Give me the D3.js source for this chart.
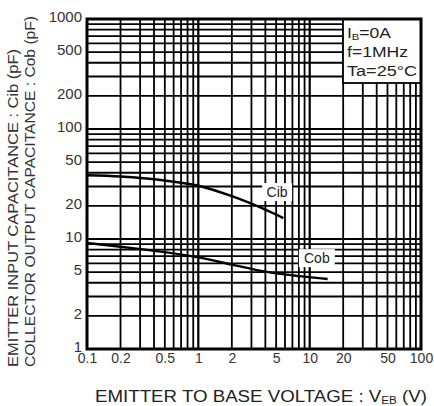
<!DOCTYPE html>
<html>
<head>
<meta charset="utf-8">
<script src="https://cdn.jsdelivr.net/npm/d3@7"></script>
<style>
  body { margin: 0; background: #fff; }
  text { font-family: "Liberation Sans", Arial, sans-serif; }
</style>
</head>
<body>
<div id="chart"></div>
<script>
// data
const cibV = [0.1, 0.2, 0.5, 1, 2, 4, 5.8];
const cibC = [38, 37, 34, 30.5, 24.5, 18.5, 15.5];
const cobV = [0.1, 0.2, 0.5, 1, 2, 4, 8, 14.5];
const cobC = [9.2, 8.5, 7.6, 6.8, 5.85, 5.05, 4.6, 4.33];
const xTicks = [0.1, 0.2, 0.5, 1, 2, 5, 10, 20, 50, 100];
const yTicks = [1, 2, 5, 10, 20, 50, 100, 200, 500, 1000];
const notes = ["f=1MHz", "Ta=25°C"];

const width = 434;
const height = 406;
const margin = {left: 87, right: 13, top: 19, bottom: 57};

const svg = d3.select('#chart')
    .append('svg')
    .attr('width', width)
    .attr('height', height)

const x = d3.scaleLog().domain([0.1, 100]).range([margin.left, width - margin.right]);
const y = d3.scaleLog().domain([1, 1000]).range([height - margin.bottom, margin.top]);

// minor grid values for every decade
const gridX = [], gridY = [];
[0.1, 1, 10].forEach(d => { for (let k = 1; k <= 10; k++) gridX.push(d * k); });
[1, 10, 100].forEach(d => { for (let k = 1; k <= 10; k++) gridY.push(d * k); });

const g = svg.append('g')

g.selectAll('.gx')
    .data(gridX)
    .enter()
    .append('line')
    .attr('x1', d => x(d)).attr('x2', d => x(d))
    .attr('y1', y(1)).attr('y2', y(1000))
    .attr('stroke', '#000')
    .attr('stroke-width', 1.8)

g.selectAll('.gy')
    .data(gridY)
    .enter()
    .append('line')
    .attr('y1', d => y(d)).attr('y2', d => y(d))
    .attr('x1', x(0.1)).attr('x2', x(100))
    .attr('stroke', '#000')
    .attr('stroke-width', 1.8)

// curves
const line = d3.line().curve(d3.curveCatmullRom.alpha(0.5));
g.append('path')
    .attr('d', line(cibV.map((v, i) => [x(v), y(cibC[i])])))
    .attr('fill', 'none').attr('stroke', '#000').attr('stroke-width', 2.4)
g.append('path')
    .attr('d', line(cobV.map((v, i) => [x(v), y(cobC[i])])))
    .attr('fill', 'none').attr('stroke', '#000').attr('stroke-width', 2.4)

// curve labels
function tag(label, vx, vy, w) {
    g.append('rect')
        .attr('x', x(vx) - w / 2).attr('y', y(vy) - 9)
        .attr('width', w).attr('height', 18)
        .attr('fill', '#fff')
    g.append('text')
        .attr('x', x(vx)).attr('y', y(vy) + 5)
        .attr('text-anchor', 'middle')
        .attr('font-size', 14)
        .attr('fill', '#222')
        .text(label)
}
tag('Cib', 5.1, 26.7, 30);
tag('Cob', 11.6, 6.7, 36);

// condition box
const bx = 343;
g.append('rect')
    .attr('x', bx).attr('y', y(1000))
    .attr('width', x(100) - bx).attr('height', 64)
    .attr('fill', '#fff').attr('stroke', '#000').attr('stroke-width', 1.8)
const t0 = g.append('text').attr('x', bx + 4).attr('y', y(1000) + 19)
    .attr('font-size', 14).attr('fill', '#222')
    .attr('textLength', 44).attr('lengthAdjust', 'spacingAndGlyphs')
t0.append('tspan').text('I')
t0.append('tspan').attr('font-size', 9).attr('dy', 2).text('B')
t0.append('tspan').attr('dy', -2).text('=0A')
g.selectAll('.note')
    .data(notes)
    .enter()
    .append('text')
    .attr('x', bx + 4)
    .attr('y', (d, i) => y(1000) + 38 + i * 19)
    .attr('font-size', 14).attr('fill', '#222')
    .attr('textLength', (d, i) => i ? 70 : 61)
    .attr('lengthAdjust', 'spacingAndGlyphs')
    .text(d => d)

// frame
g.append('rect')
    .attr('x', x(0.1)).attr('y', y(1000))
    .attr('width', x(100) - x(0.1)).attr('height', y(1) - y(1000))
    .attr('fill', 'none').attr('stroke', '#000').attr('stroke-width', 3)

// axes (labels only)
const fmt = d => String(d);
const xAxis = svg.append('g')
    .attr('transform', `translate(0,${y(1)})`)
    .call(d3.axisBottom(x).tickValues(xTicks).tickFormat(fmt).tickSize(0).tickPadding(4))
xAxis.select('.domain').remove()
xAxis.selectAll('text').attr('font-size', 14).attr('fill', '#333').attr('font-family', null)

const yAxis = svg.append('g')
    .attr('transform', `translate(${x(0.1)},-2)`)
    .call(d3.axisLeft(y).tickValues(yTicks).tickFormat(fmt).tickSize(0).tickPadding(5))
yAxis.select('.domain').remove()
yAxis.selectAll('text').attr('font-size', 15).attr('fill', '#333').attr('font-family', null)

// titles
const xt = svg.append('text')
    .attr('x', 95).attr('y', 402)
    .attr('font-size', 16).attr('fill', '#222')
    .attr('textLength', 332).attr('lengthAdjust', 'spacingAndGlyphs')
xt.append('tspan').text('EMITTER TO BASE VOLTAGE : V')
xt.append('tspan').attr('font-size', 10).attr('dy', 2).text('EB')
xt.append('tspan').attr('dy', -2).text(' (V)')

svg.append('text')
    .attr('transform', 'translate(18,367) rotate(-90)')
    .attr('font-size', 14).attr('fill', '#333')
    .attr('textLength', 318).attr('lengthAdjust', 'spacingAndGlyphs')
    .text('EMITTER INPUT CAPACITANCE : Cib (pF)')
svg.append('text')
    .attr('transform', 'translate(35,367) rotate(-90)')
    .attr('font-size', 14).attr('fill', '#333')
    .attr('textLength', 351).attr('lengthAdjust', 'spacingAndGlyphs')
    .text('COLLECTOR OUTPUT CAPACITANCE : Cob (pF)')
</script>
</body>
</html>
